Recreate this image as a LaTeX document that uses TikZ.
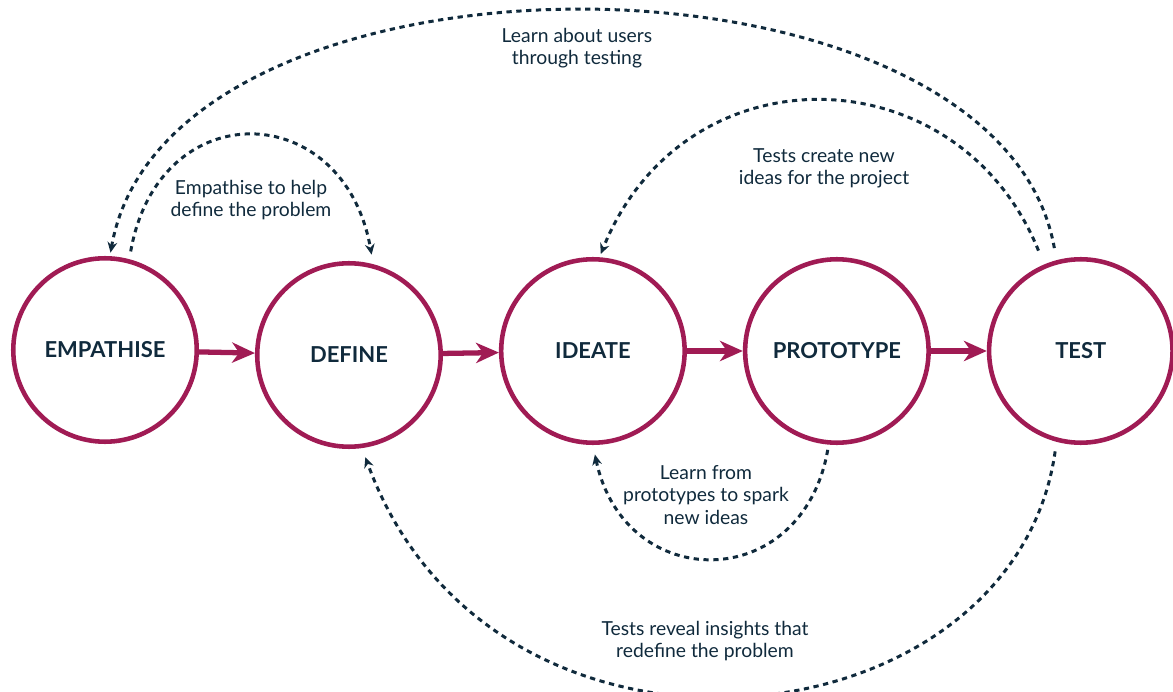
\documentclass[tikz,border=0pt]{standalone}
\usepackage{fontspec}
\setmainfont{Lato}
\usetikzlibrary{arrows.meta,positioning}
\definecolor{crimson}{RGB}{160,27,84}
\definecolor{navy}{RGB}{16,42,60}

\begin{document}
\begin{tikzpicture}[x=0.02cm, y=0.02cm, node distance=4.88cm,
    phase/.style={circle, draw=crimson, line width=2.6pt, minimum size=3.67cm, text=navy, font=\fontsize{12.5}{15}\selectfont\bfseries},
    note/.style={text=navy, align=center, font=\fontsize{11}{12.6}\selectfont},
    flow/.style={crimson, line width=3pt, -{Stealth[length=13pt, width=11.5pt, inset=4pt]}},
    feedback/.style={navy, line width=1.7pt, dash pattern=on 3pt off 2.6pt, -{Stealth[length=6pt, width=5.5pt]}}]
    \useasboundingbox (0,0) rectangle (1173,-692);

    \node [phase](empathise) at (105,-350) {EMPATHISE};
    \node [phase](define) [right of=empathise, yshift=-0.1cm] {DEFINE};
    \node [phase](ideate) [right of=define, yshift=0.08cm] {IDEATE};
    \node [phase](prototype) [right of=ideate] {PROTOTYPE};
    \node [phase](test) [right of=prototype] {TEST};

    \node [note](users note) at (577,-48) {Learn about users\\through testing};
    \node [note](problem note) at (251,-200) {Empathise to help\\define the problem};
    \node [note](ideas note) at (824,-168) {Tests create new\\ideas for the project};
    \node [note](spark note) at (706,-495) {Learn from\\prototypes to spark\\new ideas};
    \node [note](insights note) at (705,-641) {Tests reveal insights that\\redefine the problem};

    \path[flow]
        (empathise) edge (define)
        (define) edge (ideate)
        (ideate) edge (prototype)
        (prototype) edge (test);

    \path[feedback]
        (empathise.75) edge[out=80, in=100, looseness=1.77, shorten <=4.5pt, shorten >=5.5pt] (define.75)
        (test.105) edge[out=100, in=80, looseness=0.9, shorten <=7pt, shorten >=2pt] (empathise.87)
        (test.113) edge[out=112, in=68, looseness=1.31, shorten <=8.5pt, shorten >=2pt] (ideate.86)
        (prototype.265) edge[out=260, in=282, looseness=1.66, shorten <=3pt, shorten >=5.5pt] (ideate.270);
    \draw[feedback, shorten <=5.5pt, shorten >=5.5pt]
        (test.255) .. controls +(262:310) and +(290:380) .. (define.278);
\end{tikzpicture}
\end{document}
